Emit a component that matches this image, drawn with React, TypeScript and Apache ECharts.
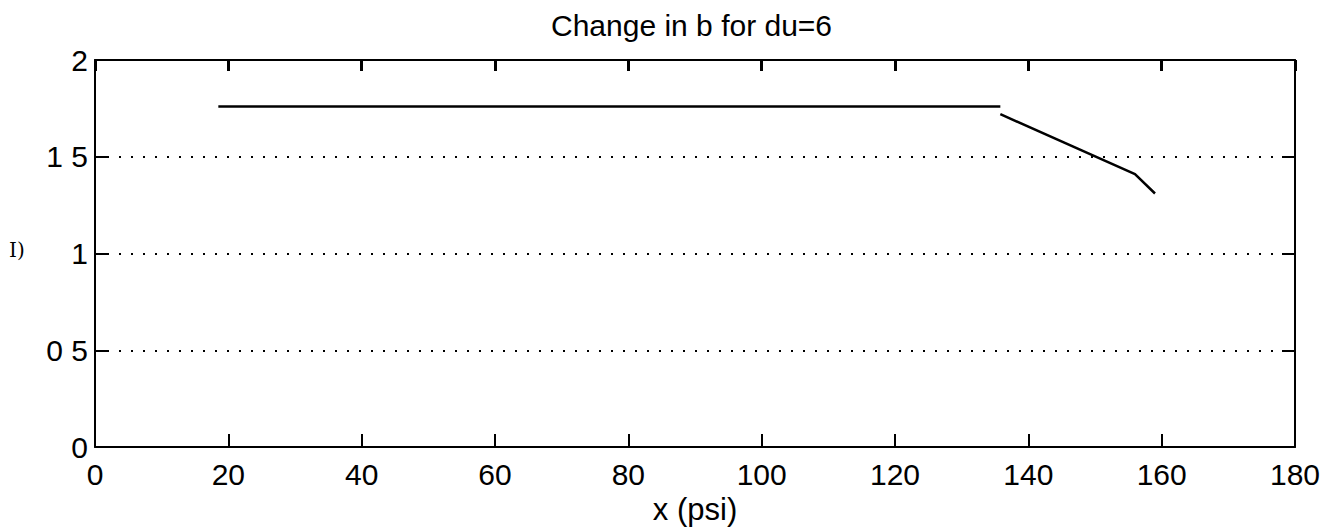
import React, { useEffect, useRef } from "react";
import * as echarts from "echarts";

const titleText = "Change in b for du=6";
const xAxisName = "x (psi)";
const yAxisName = "I)";
const xTicks = [0, 20, 40, 60, 80, 100, 120, 140, 160, 180];
const yTickValues = [0, 0.5, 1, 1.5, 2];
const yTickLabels = ["0", "0 5", "1", "1 5", "2"];

// flat segment
const flatX = [18.5, 135.8];
const flatY = [1.76, 1.76];
// falling segment
const fallX = [135.8, 156, 159];
const fallY = [1.72, 1.41, 1.31];

const FONT = "Liberation Sans, Arial, Helvetica, sans-serif";

export default function App() {
  const ref = useRef<HTMLDivElement>(null);
  useEffect(() => {
    if (!ref.current) return;
    const chart = echarts.init(ref.current, undefined, { renderer: "svg" });
    const axisLine = { show: true, onZero: false, lineStyle: { color: "#000", width: 2 } };
    chart.setOption({
      animation: false,
      backgroundColor: "#fff",
      title: {
        text: titleText,
        left: 546,
        top: 5,
        textStyle: { fontFamily: FONT, fontSize: 30, fontWeight: "normal", color: "#000" },
      },
      grid: { left: 95, right: 47, top: 60, bottom: 83, containLabel: false },
      xAxis: [
        {
          type: "value",
          min: 0,
          max: 180,
          interval: 20,
          position: "bottom",
          axisLine,
          axisTick: { show: true, inside: true, length: 13, lineStyle: { color: "#000", width: 2 } },
          axisLabel: {
            fontFamily: FONT,
            fontSize: 30,
            color: "#000",
            margin: 12,
            formatter: (v: number) => (xTicks.includes(v) ? String(v) : ""),
          },
          splitLine: { show: false },
          name: xAxisName,
          nameLocation: "middle",
          nameGap: 47,
          nameTextStyle: { fontFamily: FONT, fontSize: 31, color: "#000" },
        },
        {
          type: "value",
          min: 0,
          max: 180,
          interval: 20,
          position: "top",
          axisLine,
          axisTick: { show: true, inside: true, length: 11, lineStyle: { color: "#000", width: 3 } },
          axisLabel: { show: false },
          splitLine: { show: false },
        },
      ],
      yAxis: [
        {
          type: "value",
          min: 0,
          max: 2,
          interval: 0.5,
          position: "left",
          axisLine,
          axisTick: { show: true, inside: true, length: 13, lineStyle: { color: "#000", width: 2 } },
          axisLabel: {
            fontFamily: FONT,
            fontSize: 30,
            color: "#000",
            margin: 7,
            formatter: (v: number) => {
              const i = yTickValues.indexOf(v);
              return i >= 0 ? yTickLabels[i] : "";
            },
          },
          splitLine: {
            show: true,
            lineStyle: { color: "#000", width: 2, type: [2, 10] },
          },
        },
        {
          type: "value",
          min: 0,
          max: 2,
          interval: 0.5,
          position: "right",
          axisLine,
          axisTick: { show: true, inside: true, length: 13, lineStyle: { color: "#000", width: 2 } },
          axisLabel: { show: false },
          splitLine: { show: false },
        },
      ],
      graphic: [
        {
          type: "text",
          left: 9,
          top: 240,
          style: { text: yAxisName, font: "20px 'DejaVu Serif', serif", fill: "#000" },
        },
      ],
      series: [
        {
          type: "line",
          xAxisIndex: 0,
          yAxisIndex: 0,
          showSymbol: false,
          data: flatX.map((x, i) => [x, flatY[i]]),
          lineStyle: { color: "#000", width: 2.5 },
        },
        {
          type: "line",
          xAxisIndex: 0,
          yAxisIndex: 0,
          showSymbol: false,
          data: fallX.map((x, i) => [x, fallY[i]]),
          lineStyle: { color: "#000", width: 2.5 },
        },
      ],
    });
    return () => chart.dispose();
  }, []);
  return (
    <div
      ref={ref}
      style={{ position: "fixed", left: 0, top: 0, width: 1342, height: 530, background: "#fff" }}
    />
  );
}
